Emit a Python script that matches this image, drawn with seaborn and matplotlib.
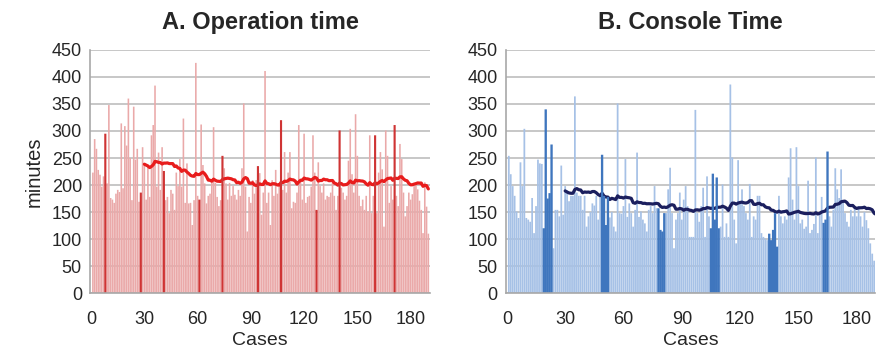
import numpy as np
import pandas as pd
import matplotlib
matplotlib.use("Agg")
import matplotlib.pyplot as plt
from matplotlib.ticker import MultipleLocator
import seaborn as sns
import warnings
warnings.simplefilter(action='ignore', category=FutureWarning)
warnings.simplefilter(action='ignore', category=UserWarning)

# --- data (minutes per case) ---
operation_time = [
    223, 285, 267, 228, 219, 197, 216, 295, 203, 348,
    176, 173, 167, 184, 191, 187, 314, 194, 309, 273,
    360, 250, 172, 345, 247, 267, 169, 186, 270, 240,
    173, 237, 178, 292, 311, 384, 197, 260, 191, 270,
    226, 172, 178, 148, 191, 184, 154, 223, 198, 248,
    197, 323, 167, 240, 166, 167, 126, 172, 426, 180,
    173, 312, 237, 203, 166, 180, 184, 211, 307, 204,
    178, 161, 172, 254, 231, 203, 173, 204, 180, 198,
    182, 173, 191, 180, 231, 351, 197, 114, 178, 167,
    209, 184, 209, 235, 222, 145, 186, 411, 167, 186,
    126, 209, 180, 228, 184, 198, 320, 191, 261, 186,
    223, 261, 157, 169, 167, 186, 311, 209, 173, 295,
    167, 178, 180, 197, 292, 223, 154, 242, 198, 186,
    203, 173, 180, 178, 186, 204, 180, 154, 180, 301,
    195, 186, 173, 180, 245, 304, 220, 186, 331, 254,
    180, 161, 173, 154, 180, 151, 292, 148, 180, 292,
    148, 223, 261, 229, 123, 301, 254, 167, 198, 173,
    311, 180, 161, 276, 248, 186, 142, 161, 186, 173,
    183, 198, 199, 192, 171, 154, 111, 205, 160, 110,
]
operation_dark = [8, 28, 41, 61, 74, 94, 107, 127, 140, 160, 171]

console_time = [
    254, 220, 198, 180, 151, 139, 242, 198, 304, 139,
    136, 132, 176, 111, 161, 247, 240, 239, 120, 340,
    175, 185, 275, 83, 154, 154, 142, 236, 145, 198,
    190, 170, 180, 180, 364, 186, 180, 180, 154, 180,
    123, 142, 150, 166, 162, 180, 136, 180, 256, 180,
    126, 178, 140, 150, 123, 114, 351, 148, 147, 161,
    248, 141, 166, 148, 123, 154, 260, 141, 151, 136,
    129, 114, 154, 161, 148, 198, 157, 157, 117, 114,
    148, 148, 192, 232, 148, 83, 136, 148, 186, 136,
    173, 198, 161, 104, 104, 104, 339, 148, 132, 161,
    195, 104, 216, 142, 120, 221, 136, 214, 120, 123,
    201, 104, 129, 104, 386, 251, 136, 92, 246, 167,
    192, 161, 148, 136, 202, 104, 142, 136, 180, 180,
    111, 104, 101, 98, 110, 98, 117, 148, 86, 180,
    142, 129, 142, 136, 214, 268, 173, 136, 270, 198,
    129, 136, 119, 123, 208, 111, 117, 128, 251, 111,
    145, 178, 130, 136, 262, 142, 123, 154, 231, 192,
    176, 229, 167, 148, 132, 123, 154, 142, 161, 142,
    161, 142, 123, 150, 135, 120, 92, 73, 60, 48,
]
console_dark = [19, 20, 21, 22, 23, 49, 50, 51, 52, 78, 79, 80, 81,
                105, 106, 107, 108, 109, 135, 136, 137, 138, 139, 163, 164, 165]

x_ticks = [0, 30, 60, 90, 120, 150, 180]
y_ticks = [0, 50, 100, 150, 200, 250, 300, 350, 400, 450]


def armar_df(valores, oscuros):
    df = pd.DataFrame({"case": np.arange(1, len(valores) + 1), "minutes": valores})
    df["dark"] = df["case"].isin(oscuros)
    df["avg"] = df["minutes"].rolling(30).mean()
    return df


def dibujar_panel(ax, df, titulo, claro, oscuro, linea, xmax, ylabel=None):
    sns.barplot(data=df, x="case", y="minutes", native_scale=True, color=claro,
                width=0.9, linewidth=0, saturation=1, ax=ax, errorbar=None)
    # bars flagged as dark get the stronger colour and fill their whole slot
    oscuros = set(df.loc[df["dark"], "case"])
    for p in ax.patches:
        p.set_snap(False)
        c = int(round(p.get_x() + p.get_width() / 2))
        if c in oscuros:
            p.set_facecolor(oscuro)
            p.set_x(c - 0.6)
            p.set_width(1.2)
            p.set_zorder(2.5)
    sns.lineplot(data=df, x="case", y="avg", color=linea, linewidth=2.3, ax=ax)
    ax.set_xlim(-0.5, xmax)
    ax.set_ylim(0, 450)
    ax.set_xticks(x_ticks)
    ax.xaxis.set_minor_locator(MultipleLocator(10))
    ax.set_yticks(y_ticks)
    ax.yaxis.grid(True, color="#bdbdbd", linewidth=1.2)
    ax.set_axisbelow(True)
    for s in ["top", "right"]:
        ax.spines[s].set_visible(False)
    for s in ["left", "bottom"]:
        ax.spines[s].set_color("#a8a8a8")
        ax.spines[s].set_linewidth(1.2)
    ax.tick_params(axis="both", which="both", color="#a8a8a8", labelsize=13,
                   length=4, pad=2)
    ax.tick_params(axis="x", which="major", pad=9)
    ax.set_xlabel("Cases", fontsize=14, labelpad=3)
    ax.set_ylabel(ylabel if ylabel else "", fontsize=14.5, labelpad=6)
    ax.set_title(titulo, fontsize=17, fontweight="bold", pad=15)


sns.set_style("white")
plt.rcParams['font.family'] = ['Liberation Sans', 'DejaVu Sans']

df_a = armar_df(operation_time, operation_dark)
df_b = armar_df(console_time, console_dark)

fig = plt.figure(figsize=(8.76, 3.54), dpi=100)
ax_a = fig.add_axes([0.103, 0.172, 0.388, 0.687])
ax_b = fig.add_axes([0.5775, 0.172, 0.4215, 0.687])

dibujar_panel(ax_a, df_a, "A. Operation time", "#eaa9a9", "#cf3434", "#e81c1c", 191, "minutes")
dibujar_panel(ax_b, df_b, "B. Console Time", "#a6c1e6", "#3f76be", "#1b1f5e", 189.5)

fig.savefig("out.png", dpi=100)
